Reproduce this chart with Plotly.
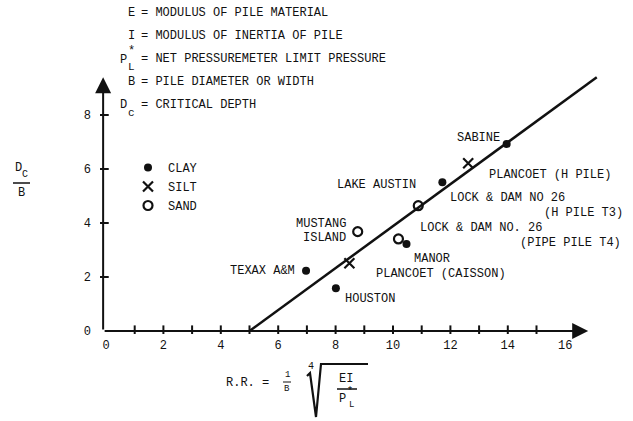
import plotly.graph_objects as go

# ---------------- data ----------------
clay_x = [13.96, 11.72, 6.97, 8.01, 10.47]
clay_y = [6.93, 5.51, 2.23, 1.58, 3.22]
silt_x = [8.48, 12.62]
silt_y = [2.51, 6.21]
sand_x = [8.77, 10.88, 10.19]
sand_y = [3.68, 4.64, 3.41]
fit_x = [5.0, 17.1]
fit_y = [0.0, 9.4]

x_tick_vals = [0, 2, 4, 6, 8, 10, 12, 14, 16]
x_tick_text = ["0", "2", "4", "6", "8", "10", "12", "14", "16"]
y_tick_vals = [0, 2, 4, 6, 8]
y_tick_text = ["0", "2", "4", "6", "8"]
x_minor = list(range(1, 16))
y_minor = [2, 4, 6, 8]

site_labels = ["LAKE AUSTIN", "MUSTANG", "ISLAND", "TEXAX A&M", "HOUSTON", "MANOR",
               "PLANCOET (CAISSON)", "SABINE", "PLANCOET (H PILE)", "LOCK & DAM NO 26",
               "(H PILE T3)", "LOCK & DAM NO. 26", "(PIPE PILE T4)"]
site_lx = [9.41, 8.43, 8.43, 6.66, 8.26, 10.66, 9.34, 12.16, 13.28, 11.92, 15.19, 10.87, 14.36]
site_ly = [5.41, 3.96, 3.44, 2.22, 1.19, 2.67, 2.11, 7.15, 5.78, 4.93, 4.37, 3.81, 3.26]
site_anchor = ["center", "right", "right", "right", "left", "left", "left", "left",
               "left", "left", "left", "left", "left"]

# ---------------- layout geometry ----------------
W, H = 633, 421
ML, MR, MT, MB = 100, 33, 70, 87
PW, PH = W - ML - MR, H - MT - MB
X0PX, XSC = 106.0, 28.7
Y0PX, YSC = 331.0, 27.0
xr = [(ML - X0PX) / XSC, (W - MR - X0PX) / XSC]
yr = [(Y0PX - (H - MB)) / YSC, (Y0PX - MT) / YSC]

def px(xp):
    return (xp - ML) / PW

def py(yp):
    return (H - MB - yp) / PH

FONT = "Liberation Mono"
BLACK = "#111111"

fig = go.Figure()

fig.add_trace(go.Scatter(x=fit_x, y=fit_y, mode="lines", line=dict(color=BLACK, width=2.5),
                         showlegend=False, hoverinfo="skip"))
fig.add_trace(go.Scatter(x=x_minor, y=[0] * len(x_minor), mode="markers",
                         marker=dict(symbol="line-ns", size=8, line=dict(color=BLACK, width=2)),
                         showlegend=False, hoverinfo="skip"))
fig.add_trace(go.Scatter(x=[-0.1] * len(y_minor), y=y_minor, mode="markers",
                         marker=dict(symbol="line-ew", size=8, line=dict(color=BLACK, width=2)),
                         showlegend=False, hoverinfo="skip"))

fig.add_trace(go.Scatter(x=clay_x, y=clay_y, mode="markers", name="CLAY",
                         marker=dict(symbol="circle", size=8, color=BLACK)))
fig.add_trace(go.Scatter(x=silt_x, y=silt_y, mode="markers", name="SILT",
                         marker=dict(symbol="x-thin-open", size=10, color=BLACK,
                                     line=dict(color=BLACK, width=2.2))))
fig.add_trace(go.Scatter(x=sand_x, y=sand_y, mode="markers", name="SAND",
                         marker=dict(symbol="circle-open", size=9, color=BLACK,
                                     line=dict(color=BLACK, width=2.2))))

ann = []
# axes with arrows
ann.append(dict(x=16.8, y=0, ax=-0.1, ay=0, xref="x", yref="y", axref="x", ayref="y",
                text="", showarrow=True, arrowhead=2, arrowsize=1.6, arrowwidth=2,
                arrowcolor=BLACK))
ann.append(dict(x=-0.1, y=9.4, ax=-0.1, ay=0, xref="x", yref="y", axref="x", ayref="y",
                text="", showarrow=True, arrowhead=2, arrowsize=1.6, arrowwidth=2,
                arrowcolor=BLACK))

for t, lx, ly, a in zip(site_labels, site_lx, site_ly, site_anchor):
    ann.append(dict(x=lx, y=ly, xref="x", yref="y", text=t, showarrow=False,
                    xanchor=a, yanchor="middle", font=dict(family=FONT, size=12, color=BLACK)))

def ptext(t, xp, yp, size=12, xa="left", ya="middle"):
    ann.append(dict(x=px(xp), y=py(yp), xref="paper", yref="paper", text=t, showarrow=False,
                    xanchor=xa, yanchor=ya, font=dict(family=FONT, size=size, color=BLACK)))

# definitions block
ptext("E", 131, 13, xa="center")
ptext("= MODULUS OF PILE MATERIAL", 139, 13)
ptext("I", 131, 36, xa="center")
ptext("= MODULUS OF INERTIA OF PILE", 139, 36)
ptext("P", 123, 60, xa="center")
ptext("*", 131, 51, xa="center")
ptext("L", 131, 67, size=11, xa="center")
ptext("= NET PRESSUREMETER LIMIT PRESSURE", 139, 59)
ptext("B", 131, 82, xa="center")
ptext("= PILE DIAMETER OR WIDTH", 139, 82)
ptext("D", 123, 105, xa="center")
ptext("c", 131, 113, size=11, xa="center")
ptext("= CRITICAL DEPTH", 139, 105)

# y-axis title D_C / B
ptext("D", 18, 168, xa="center")
ptext("C", 25, 174, size=10, xa="center")
ptext("B", 21, 193, xa="center")

# x-axis title R.R. = 1/B (EI/P*L)^(1/4)
ptext("R.R. =", 224, 383)
ptext("1", 287, 375, size=9, xa="center")
ptext("B", 287, 389, size=9, xa="center")
ptext("4", 311, 366, size=10, xa="center")
ptext("EI", 346, 379, xa="center")
ptext("P", 342, 399, xa="center")
ptext("*", 350, 391, size=10, xa="center")
ptext("L", 351, 405, size=9, xa="center")

shapes = []
def pline(pts, w=2):
    d = "M " + " L ".join(f"{px(a):.5f},{py(b):.5f}" for a, b in pts)
    shapes.append(dict(type="path", path=d, xref="paper", yref="paper",
                       line=dict(color=BLACK, width=w)))

pline([(13, 183), (30, 183)], 1.5)      # D_C / B bar
pline([(283, 382), (291, 382)], 1)      # 1/B bar
pline([(307, 376), (310, 373), (316, 417), (321, 364), (368, 364)], 2.2)  # radical
pline([(337, 389), (357, 389)], 1.5)    # EI / P*L bar

fig.update_layout(
    width=W, height=H,
    margin=dict(l=ML, r=MR, t=MT, b=MB),
    paper_bgcolor="white", plot_bgcolor="white",
    annotations=ann, shapes=shapes,
    showlegend=True,
    legend=dict(x=px(128), y=py(153), xanchor="left", yanchor="top",
                font=dict(family=FONT, size=12, color=BLACK),
                bgcolor="rgba(0,0,0,0)", itemwidth=30, tracegroupgap=0),
    xaxis=dict(range=xr, showgrid=False, zeroline=False, showline=False, ticks="",
               tickvals=x_tick_vals, ticktext=x_tick_text, ticklabelstandoff=2,
               tickfont=dict(family=FONT, size=12, color=BLACK), fixedrange=True),
    yaxis=dict(range=yr, showgrid=False, zeroline=False, showline=False, ticks="",
               tickvals=y_tick_vals, ticktext=y_tick_text, ticklabelstandoff=8,
               tickfont=dict(family=FONT, size=12, color=BLACK), fixedrange=True),
)

fig.write_html("out.html")
